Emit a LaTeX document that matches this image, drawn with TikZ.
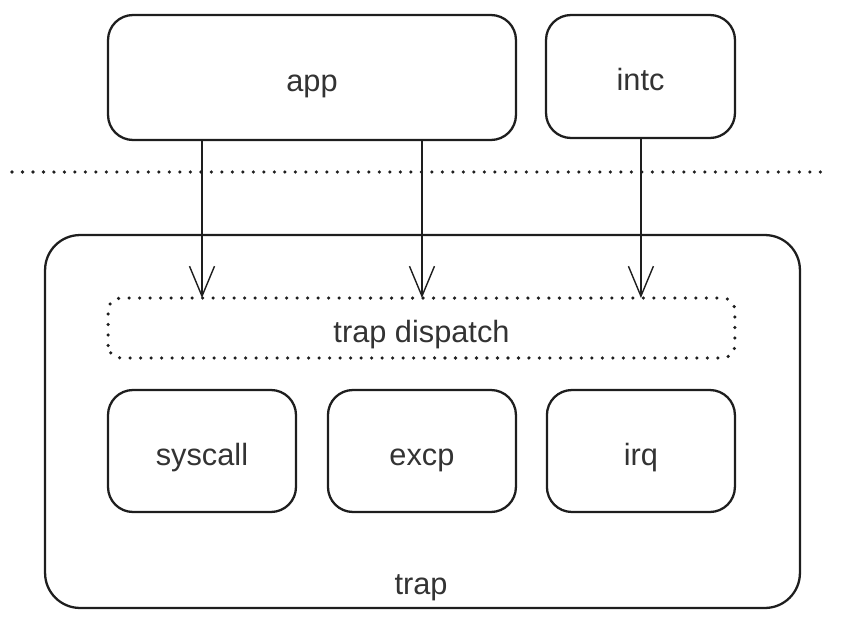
\documentclass[tikz,border=0pt]{standalone}
\usepackage{fontspec}
\setmainfont{Liberation Sans}
\usetikzlibrary{positioning,calc}
\usetikzlibrary{arrows.meta}
\definecolor{ink}{HTML}{1E1E1E}
\definecolor{txt}{HTML}{333333}
\tikzset{box/.style={draw=ink,line width=1.3pt,rounded corners=0.5cm,inner sep=0pt,outer sep=0pt,text=txt,text height=19pt,text depth=3pt,font=\fontsize{17.5}{20}\selectfont},
         dotline/.style={draw=ink,line width=2pt,line cap=round,dash pattern=on 0pt off 0.21cm},
         flow/.style={draw=ink,line width=0.8pt,-{Straight Barb[length=0.6cm,width=0.5cm]}}}

\begin{document}
\begin{tikzpicture}[x=0.02cm,y=-0.02cm]
   \useasboundingbox (0,0) rectangle (844,625);
   \node[box,minimum width=8.16cm,minimum height=2.5cm] (app) at (312,77.5) {app};
   \node[box,minimum width=3.78cm,minimum height=2.46cm] (intc) at (640.5,76.5) {intc};

   \coordinate (l0) at (12,172);
   \coordinate (l1) at (825,172);
   \draw[dotline] (l0) -- (l1);

   \node[box,rounded corners=0.7cm,minimum width=15.1cm,minimum height=7.46cm] (trap) at (422.5,421.5) {};
   \node[box,draw=none] (traplbl) at (421,580) {trap};
   \node[box,rounded corners=0.25cm,draw=none,minimum width=12.54cm,minimum height=1.2cm] (disp) at (421.5,328) {trap dispatch};
   \draw[dotline,rounded corners=0.25cm] (disp.south west) rectangle (disp.north east);

   \node[box,minimum width=3.76cm,minimum height=2.44cm] (sys) at (202,451) {syscall};
   \node[box,minimum width=3.76cm,minimum height=2.44cm,right=0.64cm of sys] (excp) {excp};
   \node[box,minimum width=3.76cm,minimum height=2.44cm,right=0.62cm of excp] (irq) {irq};

   \draw[flow] (app.south -| sys.center) -- (disp.north -| sys.center);
   \draw[flow] (app.south -| excp.center) -- (disp.north -| excp.center);
   \draw[flow] (intc.south -| irq.center) -- (disp.north -| irq.center);
\end{tikzpicture}
\end{document}
